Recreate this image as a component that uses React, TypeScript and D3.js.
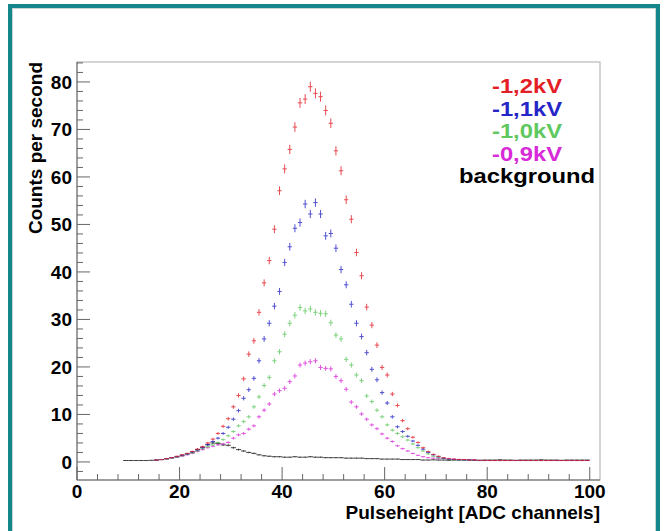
import React from 'react';
import * as d3 from 'd3';

// ADC channel of the first bin of each series
const BG_START = 9;
const HV_START = 15;

const legendLabels = ['-1,2kV', '-1,1kV', '-1,0kV', '-0,9kV', 'background'];
const xTicks = [0, 20, 40, 60, 80, 100];
const yTicks = [0, 10, 20, 30, 40, 50, 60, 70, 80];

// counts per second, one value per channel
const kv12 = [
  0.4, 0.5, 0.7, 0.9, 1.2, 1.5, 1.8, 2.2, 2.7, 3.2, 4.0, 4.8, 6.0, 7.5, 9.1, 11.6, 14.0, 17.5, 22.7, 25.5,
  31.5, 37.7, 42.4, 49.0, 57.1, 61.7, 65.8, 70.5, 75.6, 76.4, 79.0, 77.6, 76.9, 74.0, 71.3, 65.5, 61.3, 55.2, 51.1, 44.1,
  39.2, 32.6, 28.8, 24.6, 19.9, 18.3, 14.3, 11.9, 8.7, 7.0, 5.2, 4.1, 3.0, 2.2, 1.6, 1.2, 0.9, 0.7, 0.6, 0.5,
  0.5, 0.4, 0.4, 0.35, 0.3, 0.3, 0.3, 0.3, 0.3, 0.3, 0.3, 0.3, 0.3, 0.3, 0.3, 0.3, 0.3, 0.3, 0.3, 0.3,
  0.3, 0.3, 0.3, 0.3, 0.3,
];
const kv11 = [
  0.4, 0.5, 0.7, 0.9, 1.1, 1.4, 1.7, 2.1, 2.5, 3.0, 3.7, 4.3, 5.0, 6.0, 7.3, 9.0, 10.8, 13.4, 15.2, 17.6,
  21.3, 25.9, 29.2, 32.8, 35.9, 42.0, 45.3, 49.2, 50.4, 54.3, 52.2, 54.6, 52.2, 47.6, 48.1, 45.0, 40.5, 37.3, 33.2, 29.2,
  26.4, 23.0, 19.5, 17.3, 14.6, 12.4, 9.5, 7.4, 6.4, 5.4, 4.4, 3.5, 2.7, 2.0, 1.5, 1.1, 0.8, 0.6, 0.5, 0.45,
  0.4, 0.4, 0.35, 0.3, 0.3, 0.3, 0.3, 0.3, 0.3, 0.3, 0.3, 0.3, 0.3, 0.3, 0.3, 0.3, 0.3, 0.3, 0.3, 0.3,
  0.3, 0.3, 0.3, 0.3, 0.3,
];
const kv10 = [
  0.4, 0.5, 0.6, 0.8, 1.0, 1.3, 1.6, 1.9, 2.3, 2.8, 3.2, 3.6, 4.1, 4.7, 5.5, 6.4, 7.6, 8.5, 9.5, 11.6,
  13.7, 16.1, 17.8, 21.3, 23.2, 26.9, 29.2, 30.9, 32.5, 31.8, 32.2, 31.5, 31.3, 31.2, 29.3, 26.7, 25.9, 21.6, 20.4, 18.3,
  17.1, 13.9, 12.7, 10.9, 9.5, 7.8, 6.7, 6.0, 5.3, 4.6, 3.8, 3.0, 2.3, 1.7, 1.2, 0.9, 0.7, 0.5, 0.45, 0.4,
  0.4, 0.35, 0.3, 0.3, 0.3, 0.3, 0.3, 0.3, 0.3, 0.3, 0.3, 0.3, 0.3, 0.3, 0.3, 0.3, 0.3, 0.3, 0.3, 0.3,
  0.3, 0.3, 0.3, 0.3, 0.3,
];
const kv09 = [
  0.4, 0.5, 0.6, 0.8, 1.0, 1.2, 1.5, 1.8, 2.2, 2.6, 3.0, 3.3, 3.6, 3.8, 4.1, 5.0, 5.7, 6.0, 6.9, 7.6,
  9.5, 10.9, 12.2, 14.3, 15.0, 15.5, 16.9, 18.1, 20.4, 20.8, 21.1, 21.3, 19.9, 19.7, 19.6, 18.0, 17.1, 15.3, 12.6, 11.6,
  10.1, 9.0, 7.8, 7.0, 5.9, 5.0, 4.3, 3.4, 2.8, 2.3, 1.8, 1.4, 1.1, 0.9, 0.8, 0.7, 0.7, 0.6, 0.6, 0.55,
  0.5, 0.45, 0.4, 0.3, 0.3, 0.3, 0.3, 0.3, 0.3, 0.3, 0.3, 0.3, 0.3, 0.3, 0.3, 0.3, 0.3, 0.3, 0.3, 0.3,
  0.3, 0.3, 0.3, 0.3, 0.3,
];
const background = [
  0.3, 0.3, 0.3, 0.3, 0.3, 0.35, 0.4, 0.5, 0.7, 0.9, 1.1, 1.4, 1.7, 2.1, 2.6, 3.1, 3.6, 4.0, 3.9, 3.6,
  3.5, 3.0, 2.6, 2.3, 2.0, 1.8, 1.5, 1.3, 1.2, 1.1, 1.1, 1.0, 1.0, 1.1, 1.0, 1.0, 1.1, 1.0, 1.0, 0.9,
  0.9, 0.9, 0.9, 0.8, 0.8, 0.8, 0.8, 0.7, 0.7, 0.7, 0.6, 0.6, 0.6, 0.6, 0.5, 0.5, 0.5, 0.5, 0.4, 0.4,
  0.45, 0.4, 0.4, 0.35, 0.4, 0.4, 0.45, 0.4, 0.4, 0.35, 0.4, 0.4, 0.4, 0.45, 0.4, 0.4, 0.35, 0.4, 0.4, 0.4,
  0.4, 0.45, 0.4, 0.4, 0.4, 0.35, 0.4, 0.4, 0.4, 0.4, 0.4,
];

const series = [
  { data: kv12, start: HV_START, color: '#e41e26' },
  { data: kv11, start: HV_START, color: '#2626c8' },
  { data: kv10, start: HV_START, color: '#5fc85f' },
  { data: kv09, start: HV_START, color: '#d82ad8' },
  { data: background, start: BG_START, color: '#222222' },
];

const W = 664;
const H = 531;
const m = { left: 77, right: 600, top: 62, bottom: 480 };
const font = '"Liberation Sans", Arial, Helvetica, sans-serif';

export default function App() {
  const x = d3.scaleLinear().domain([0, 102]).range([m.left, m.right]);
  const y = d3.scaleLinear().domain([-3.8, 84.2]).range([m.bottom, m.top]);

  const xMinor = d3.range(0, 102, 4);
  const yMinor = d3.range(-2, 85, 2);

  // draw background first, colored sets on top
  const drawOrder = [series[4], series[3], series[2], series[1], series[0]];

  return (
    <svg width={W} height={H} style={{ position: 'absolute', left: 0, top: 0 }}>
      <rect x={0} y={0} width={W} height={H} fill="#fff" />
      <rect x={10} y={6} width={648} height={540} fill="#fff" stroke="#14878a" strokeWidth={4} />
      <rect x={12.5} y={8.5} width={643} height={535} fill="none" stroke="#c8d4d4" strokeWidth={1} />

      {/* frame */}
      <rect x={m.left} y={m.top} width={m.right - m.left} height={m.bottom - m.top}
        fill="none" stroke="#aaaaaa" strokeWidth={1} />

      {drawOrder.map((s, si) => (
        <g key={si} stroke={s.color} strokeWidth={1} opacity={s.start === BG_START ? 0.85 : 0.8}>
          {s.data.map((v, i) => {
            const c = s.start + i + 0.5;
            const err = 0.12 * Math.sqrt(v);
            const half = s.start === BG_START ? 0.5 : 0.42;
            return (
              <g key={i}>
                <line x1={x(c - half)} x2={x(c + half)} y1={y(v)} y2={y(v)} />
                <line x1={x(c)} x2={x(c)} y1={y(v - err)} y2={y(v + err)} />
              </g>
            );
          })}
        </g>
      ))}

      {/* axes */}
      <g stroke="#666" strokeWidth={1}>
        <line x1={m.left} x2={m.right} y1={m.bottom} y2={m.bottom} />
        <line x1={m.left} x2={m.left} y1={m.top} y2={m.bottom} />
        {xMinor.map((t) => (
          <line key={'xm' + t} x1={x(t)} x2={x(t)} y1={m.bottom} y2={m.bottom - (t % 20 === 0 ? 13 : 6)} />
        ))}
        {yMinor.map((t) => (
          <line key={'ym' + t} x1={m.left} x2={m.left + (t % 10 === 0 ? 13 : 6)} y1={y(t)} y2={y(t)} />
        ))}
      </g>

      <g fontFamily={font} fontWeight="bold" fontSize={19} fill="#000">
        {xTicks.map((t) => (
          <text key={'xl' + t} x={x(t)} y={498} textAnchor="middle">{t}</text>
        ))}
        {yTicks.map((t) => (
          <text key={'yl' + t} x={72} y={y(t)} dy="0.36em" textAnchor="end">{t}</text>
        ))}
        <text x={m.right} y={519} textAnchor="end">Pulseheight [ADC channels]</text>
        <text transform={`translate(42, ${m.top}) rotate(-90)`} textAnchor="end">Counts per second</text>
      </g>

      <g fontFamily={font} fontWeight="bold" fontSize={19.5} textAnchor="middle">
        {legendLabels.map((label, i) => (
          <text key={label} transform={`translate(527, ${93 + i * 22.5}) scale(1.22, 1.08)`}
            fill={series[i].color === '#222222' ? '#000' : series[i].color}>
            {label}
          </text>
        ))}
      </g>
    </svg>
  );
}
